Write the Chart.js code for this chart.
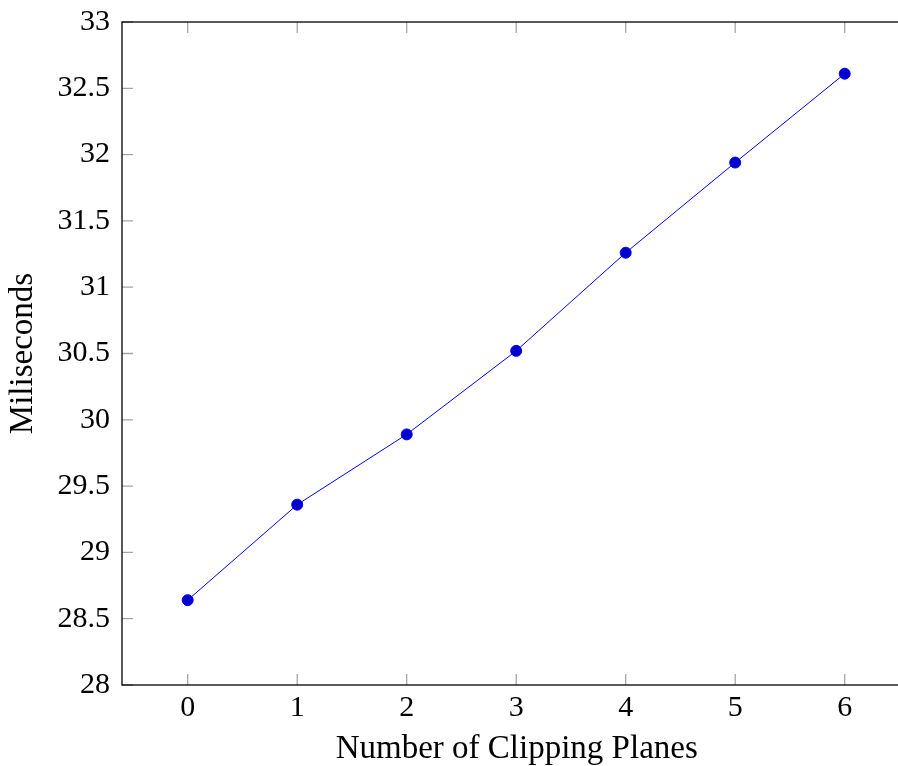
<!DOCTYPE html>
<html>
<head>
<meta charset="utf-8">
<script src="https://cdn.jsdelivr.net/npm/chart.js@4/dist/chart.umd.min.js"></script>
<style>
  html, body { margin: 0; padding: 0; background: #fff; overflow: hidden; }
  #wrap { width: 898px; height: 766px; overflow: hidden; }
  canvas { display: block; }
</style>
</head>
<body>
<div id="wrap"><canvas id="c" width="918" height="766"></canvas></div>
<script>
const categories = [0, 1, 2, 3, 4, 5, 6];
const milliseconds = [28.64, 29.36, 29.89, 30.52, 31.26, 31.94, 32.61];
const xTickValues = [0, 1, 2, 3, 4, 5, 6];
const yTickValues = [28, 28.5, 29, 29.5, 30, 30.5, 31, 31.5, 32, 32.5, 33];
const xTitle = 'Number of Clipping Planes';
const yTitle = 'Miliseconds';

const FONT = "'Liberation Serif', 'DejaVu Serif', serif";

const frame = {
  id: 'frame',
  afterDraw(chart) {
    const ctx = chart.ctx;
    const a = chart.chartArea;
    const xs = chart.scales.x, ys = chart.scales.y;
    const L = 11;
    ctx.save();
    ctx.strokeStyle = '#a6a6a6';
    ctx.lineWidth = 1.3;
    ctx.beginPath();
    xs.ticks.forEach((t) => {
      const px = xs.getPixelForValue(t.value);
      ctx.moveTo(px, a.bottom); ctx.lineTo(px, a.bottom - L);
      ctx.moveTo(px, a.top); ctx.lineTo(px, a.top + L);
    });
    ys.ticks.forEach((t) => {
      const py = ys.getPixelForValue(t.value);
      ctx.moveTo(a.left, py); ctx.lineTo(a.left + L, py);
      ctx.moveTo(a.right, py); ctx.lineTo(a.right - L, py);
    });
    ctx.stroke();
    ctx.strokeStyle = '#000';
    ctx.lineWidth = 1.3;
    ctx.strokeRect(a.left, a.top, a.right - a.left, a.bottom - a.top);
    ctx.restore();
  }
};

new Chart(document.getElementById('c'), {
  type: 'line',
  data: {
    datasets: [{
      data: categories.map((c, i) => ({ x: c, y: milliseconds[i] })),
      borderColor: '#0000ff',
      borderWidth: 1,
      backgroundColor: '#0000cc',
      pointBackgroundColor: '#0000cc',
      pointBorderColor: '#0000ff',
      pointBorderWidth: 1,
      pointRadius: 5.5,
      pointHoverRadius: 5.5,
      tension: 0,
      clip: false
    }]
  },
  options: {
    responsive: false,
    animation: false,
    events: [],
    layout: { padding: { top: 22, right: 0, left: 0, bottom: 0 } },
    plugins: { legend: { display: false }, tooltip: { enabled: false } },
    scales: {
      x: {
        type: 'linear',
        min: -0.6,
        max: 6.61,
        afterBuildTicks: (s) => { s.ticks = xTickValues.map(v => ({ value: v })); },
        afterFit: (s) => { s.height = 81; },
        grid: { display: false, drawTicks: false },
        border: { display: false },
        ticks: {
          padding: 5,
          color: '#000',
          font: { family: FONT, size: 30 },
          callback: (v) => String(v)
        },
        title: {
          display: true,
          text: xTitle,
          color: '#000',
          font: { family: FONT, size: 33, lineHeight: 1 },
          padding: { top: 0, bottom: 0 }
        }
      },
      y: {
        type: 'linear',
        min: 28,
        max: 33,
        afterBuildTicks: (s) => { s.ticks = yTickValues.map(v => ({ value: v })); },
        afterFit: (s) => { s.width = 122; },
        grid: { display: false, drawTicks: false },
        border: { display: false },
        ticks: {
          padding: 12,
          color: '#000',
          font: { family: FONT, size: 30, lineHeight: 0.5 },
          callback: (v) => String(v)
        },
        title: {
          display: true,
          text: yTitle,
          color: '#000',
          font: { family: FONT, size: 33, lineHeight: 1 },
          padding: { top: 7, bottom: 0 }
        }
      }
    }
  },
  plugins: [frame]
});
</script>
</body>
</html>
